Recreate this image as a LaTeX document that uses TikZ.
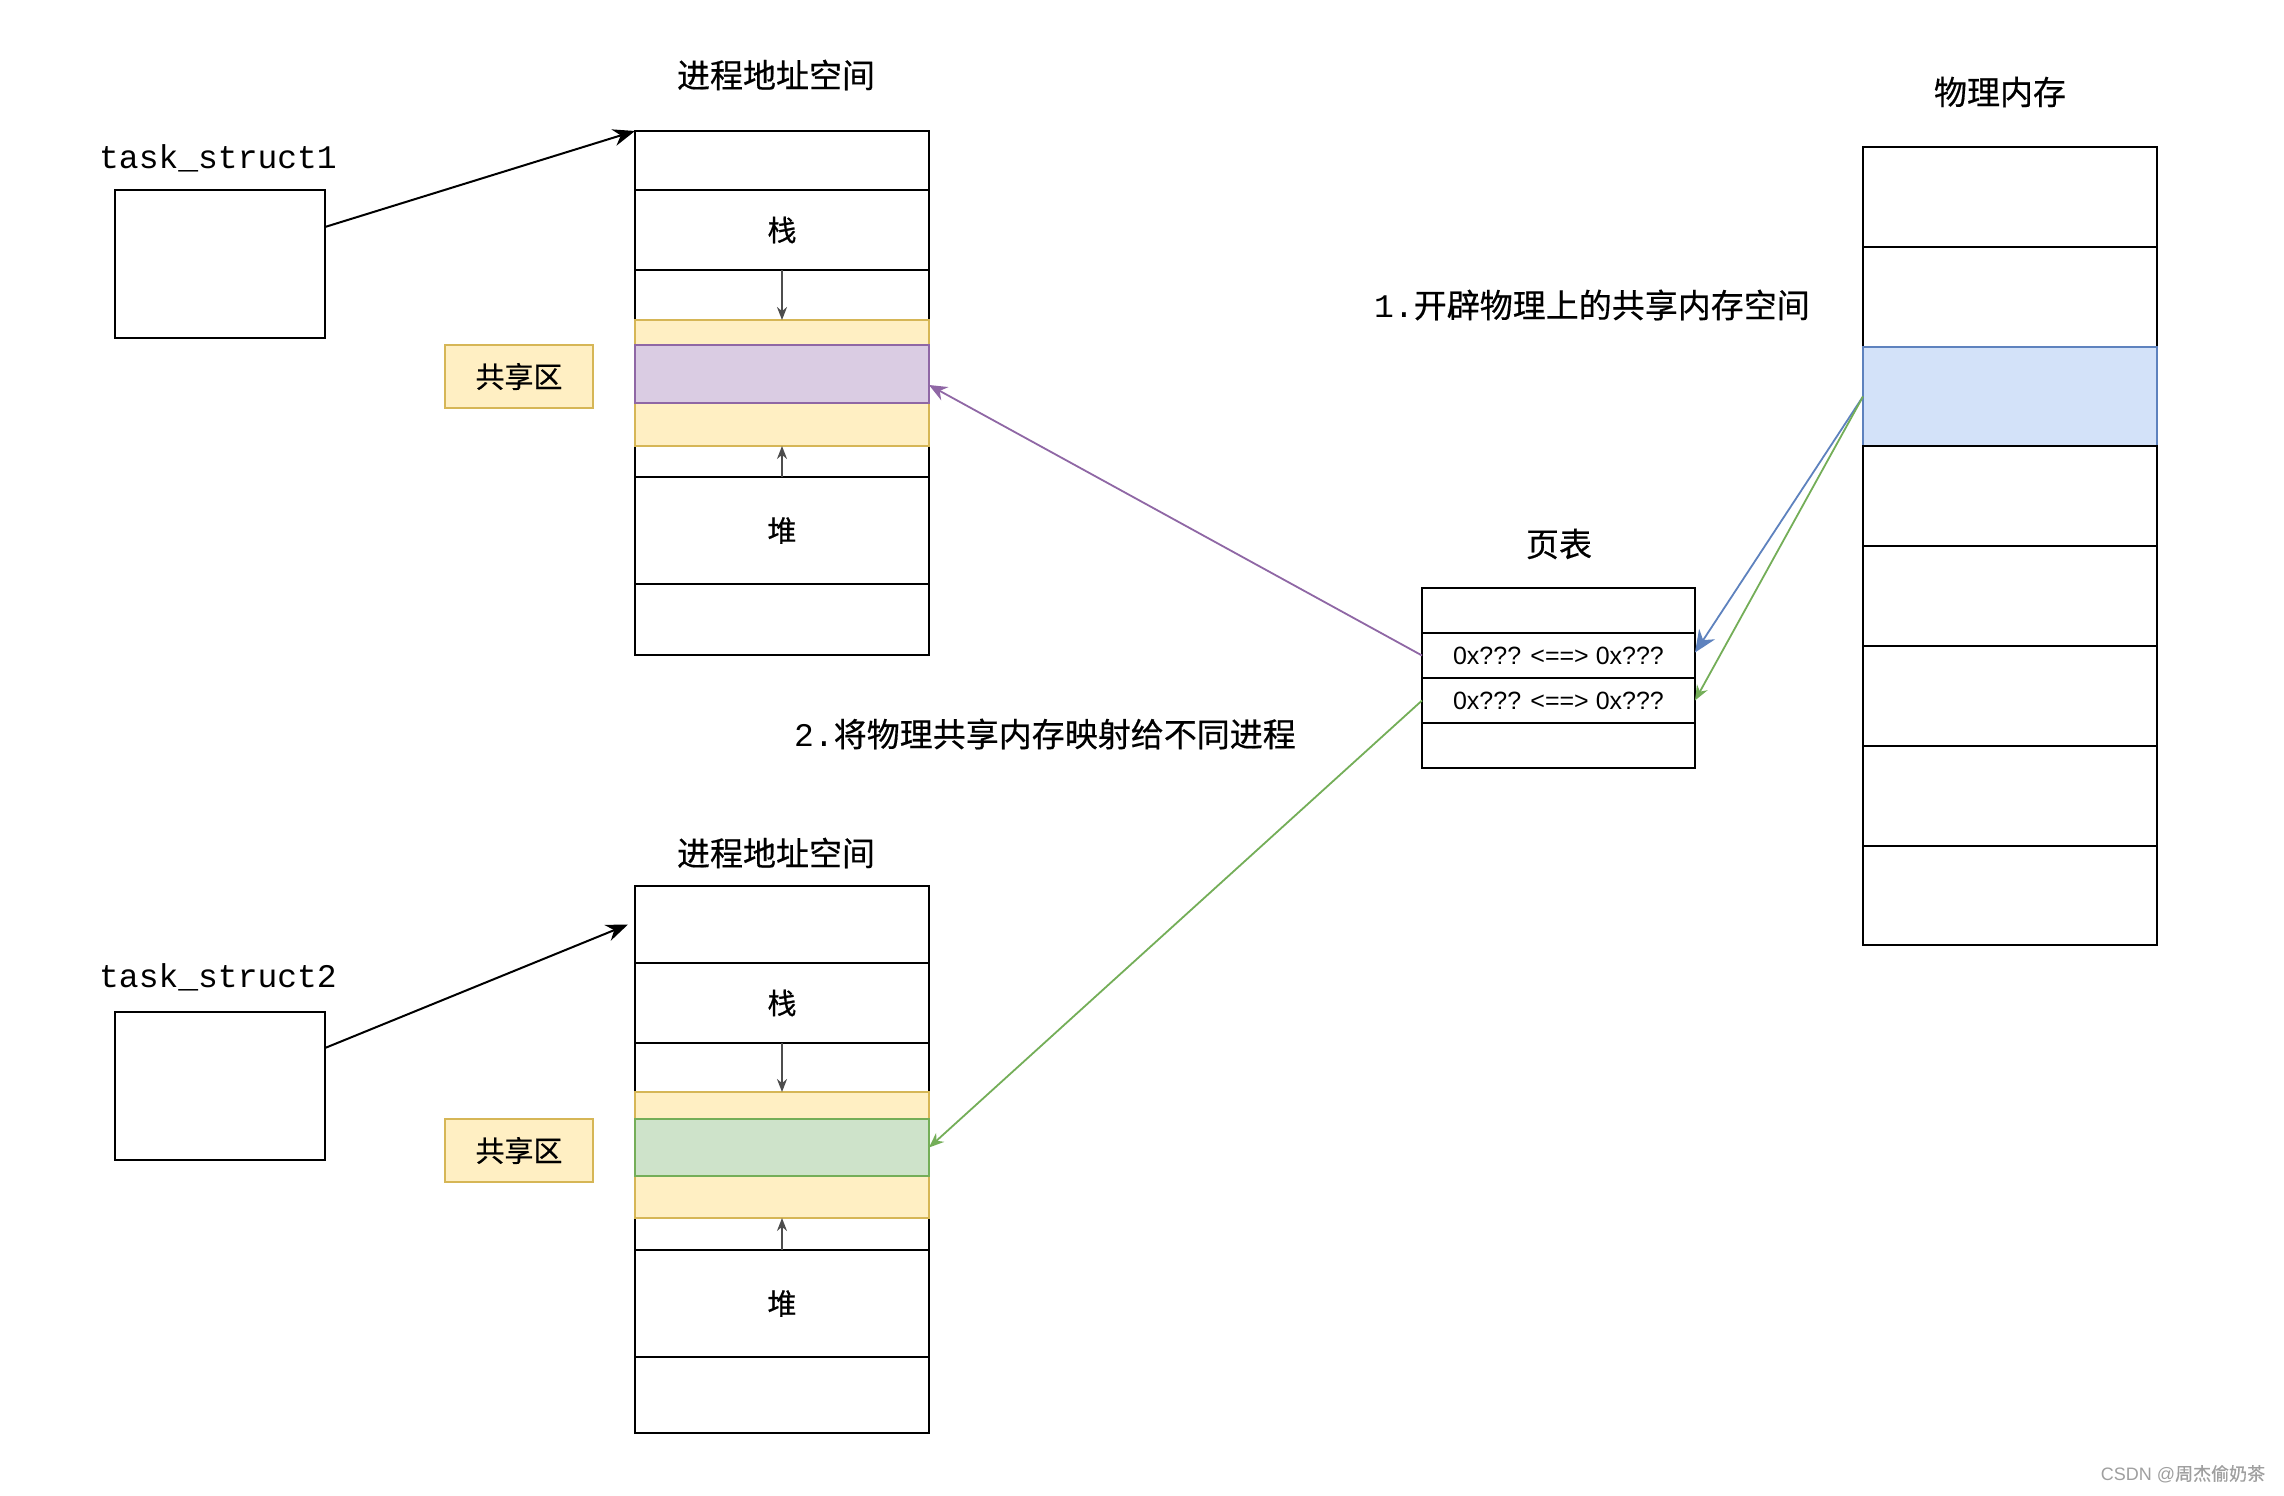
\documentclass[tikz,border=0pt]{standalone}
\usepackage{fontspec}
\setmainfont{Liberation Sans}
\newfontfamily\cjk{Noto Sans CJK SC}[FakeBold=0.5]
\newfontfamily\mono{Liberation Mono}
\usetikzlibrary{arrows.meta,calc}
\definecolor{ylwfill}{HTML}{FFEFC3}
\definecolor{ylwline}{HTML}{D6B656}
\definecolor{purfill}{HTML}{DACCE3}
\definecolor{purline}{HTML}{8F67A5}
\definecolor{grnfill}{HTML}{CEE3CA}
\definecolor{grnline}{HTML}{74AE58}
\definecolor{blufill}{HTML}{D3E2F9}
\definecolor{bluline}{HTML}{5E82BE}
\definecolor{arrgray}{HTML}{4D4D4D}
\begin{document}
\begin{tikzpicture}[x=1pt,y=-1pt,
  cell/.style={draw=black,line width=2pt,fill=white,anchor=north west,inner sep=0pt,outer sep=0pt,minimum width=294pt},
  ylwband/.style={draw=ylwline,line width=2pt,fill=ylwfill,anchor=north west,inner sep=0pt,outer sep=0pt,minimum width=294pt},
  purband/.style={draw=purline,line width=2pt,fill=purfill,anchor=north west,inner sep=0pt,outer sep=0pt,minimum width=294pt},
  grnband/.style={draw=grnline,line width=2pt,fill=grnfill,anchor=north west,inner sep=0pt,outer sep=0pt,minimum width=294pt},
  blucell/.style={draw=bluline,line width=2pt,fill=blufill,anchor=north west,inner sep=0pt,outer sep=0pt,minimum width=294pt},
  ptcell/.style={draw=black,line width=2pt,fill=white,anchor=north west,inner sep=0pt,outer sep=0pt,minimum width=273pt,minimum height=45pt,font=\fontsize{25}{30}\selectfont},
  tsbox/.style={draw=black,line width=2pt,fill=white,anchor=north west,inner sep=0pt,outer sep=0pt,minimum width=210pt,minimum height=148pt},
  shlabel/.style={draw=ylwline,line width=2pt,fill=ylwfill,anchor=north west,inner sep=0pt,outer sep=0pt,minimum width=148pt,minimum height=63pt,font=\cjk\fontsize{29}{34}\selectfont},
  title/.style={font=\cjk\fontsize{33}{40}\selectfont,inner sep=0pt},
  monolabel/.style={font=\mono\fontsize{33}{40}\selectfont,inner sep=0pt},
  cjkbig/.style={font=\cjk\fontsize{29}{34}\selectfont},
  blackarrow/.style={draw=black,line width=2pt,-{Stealth[length=22pt,width=17pt]}},
  grayarrow/.style={draw=arrgray,line width=2pt,-{Stealth[length=13pt,width=10pt]}},
  colarrow/.style={line width=1.8pt}
]
\useasboundingbox (0,0) rectangle (2284,1496);
\fill[white] (0,0) rectangle (2284,1496);

% ---------- process 1 ----------
\node[title] (title1) at (776,75) {进程地址空间};
\node[monolabel] (tslab1) at (218,158) {task\_struct1};
\node[tsbox] (ts1) at (115,190) {};

\node[cell,minimum height=59pt] (c1top) at (635,131) {};
\node[cell,minimum height=80pt,cjkbig] (stack1) at (635,190) {栈};
\node[cell,minimum height=207pt] (gap1) at (635,270) {};
\node[ylwband,minimum height=126pt] (ylw1) at (635,320) {};
\node[purband,minimum height=58pt] (shm1) at (635,345) {};
\node[cell,minimum height=107pt,cjkbig] (heap1) at (635,477) {堆};
\node[cell,minimum height=71pt] (c1bot) at (635,584) {};
\node[shlabel] (sh1) at (445,345) {共享区};

\draw[grayarrow] (stack1.south) -- (ylw1.north);
\draw[grayarrow] (heap1.north) -- (ylw1.south);
\draw[blackarrow] ($(ts1.north east)+(0,37)$) -- (c1top.north west);

% ---------- process 2 ----------
\node[title] (title2) at (776,853) {进程地址空间};
\node[monolabel] (tslab2) at (218,977) {task\_struct2};
\node[tsbox] (ts2) at (115,1012) {};

\node[cell,minimum height=77pt] (c2top) at (635,886) {};
\node[cell,minimum height=80pt,cjkbig] (stack2) at (635,963) {栈};
\node[cell,minimum height=207pt] (gap2) at (635,1043) {};
\node[ylwband,minimum height=126pt] (ylw2) at (635,1092) {};
\node[grnband,minimum height=57pt] (shm2) at (635,1119) {};
\node[cell,minimum height=107pt,cjkbig] (heap2) at (635,1250) {堆};
\node[cell,minimum height=76pt] (c2bot) at (635,1357) {};
\node[shlabel] (sh2) at (445,1119) {共享区};

\draw[grayarrow] (stack2.south) -- (ylw2.north);
\draw[grayarrow] (heap2.north) -- (ylw2.south);
\draw[blackarrow] ($(ts2.north east)+(0,36)$) -- ($(c2top.west)+(-7,0)$);

% ---------- physical memory ----------
\node[title] (phystitle) at (2000,92) {物理内存};
\node[cell,minimum height=100pt] (p1) at (1863,147) {};
\node[cell,minimum height=100pt] (p2) at (1863,247) {};
\node[blucell,minimum height=99pt] (p3) at (1863,347) {};
\node[cell,minimum height=100pt] (p4) at (1863,446) {};
\node[cell,minimum height=100pt] (p5) at (1863,546) {};
\node[cell,minimum height=100pt] (p6) at (1863,646) {};
\node[cell,minimum height=100pt] (p7) at (1863,746) {};
\node[cell,minimum height=99pt] (p8) at (1863,846) {};

\node[anchor=west,inner sep=0pt] (step1) at (1374,305) {{\mono\fontsize{33}{40}\selectfont 1.}{\cjk\fontsize{33}{40}\selectfont 开辟物理上的共享内存空间}};

% ---------- page table ----------
\node[title] (pttitle) at (1559,544) {页表};
\node[ptcell] (pt1) at (1422,588) {};
\node[ptcell] (pt2) at (1422,633) {0x??? <==> 0x???};
\node[ptcell] (pt3) at (1422,678) {0x??? <==> 0x???};
\node[ptcell] (pt4) at (1422,723) {};

\node[anchor=west,inner sep=0pt] (step2) at (794,734) {{\mono\fontsize{33}{40}\selectfont 2.}{\cjk\fontsize{33}{40}\selectfont 将物理共享内存映射给不同进程}};

% ---------- mapping arrows ----------
\draw[colarrow,draw=bluline,fill=bluline,-{Stealth[length=22pt,width=19pt]}] (p3.west) -- ($(pt2.east)+(0,-3)$);
\draw[colarrow,draw=grnline,fill=grnline,-{Stealth[length=15pt,width=12pt]}] (p3.west) -- (pt3.east);
\draw[colarrow,draw=purline,fill=purline,-{Stealth[length=18pt,width=15pt]}] (pt2.west) -- ($(shm1.east)+(0,11)$);
\draw[colarrow,draw=grnline,fill=grnline,-{Stealth[length=15pt,width=12pt]}] (pt3.west) -- (shm2.east);

% watermark
\node[text=gray!75,font=\fontsize{18}{22}\selectfont,inner sep=0pt] (wm) at (2183,1474) {CSDN @{\cjk 周杰偷奶茶}};
\end{tikzpicture}
\end{document}
